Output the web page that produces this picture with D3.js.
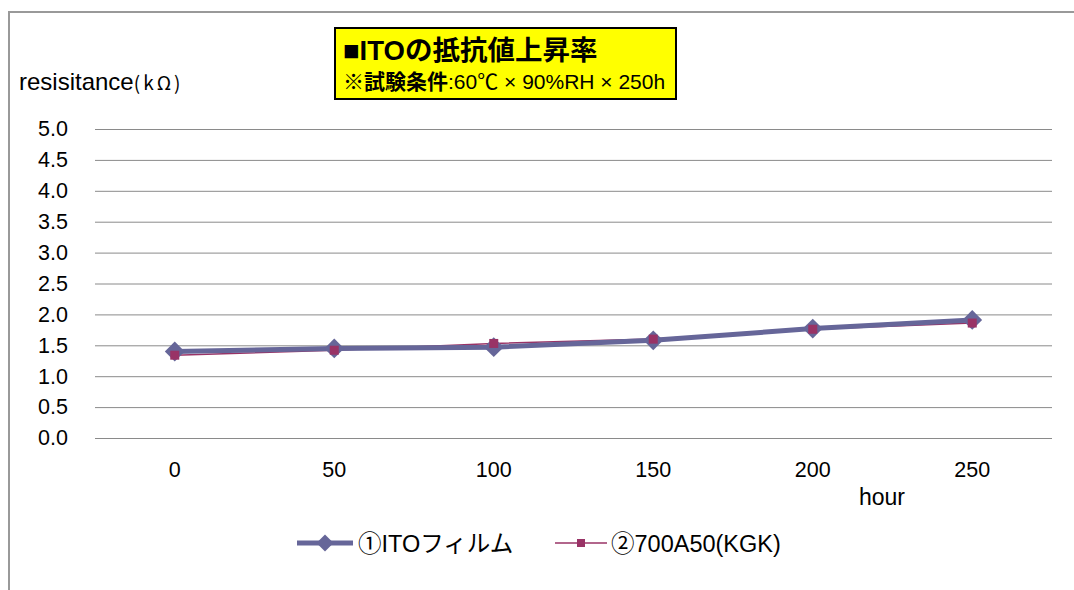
<!DOCTYPE html>
<html>
<head>
<meta charset="utf-8">
<script src="https://cdn.jsdelivr.net/npm/d3@7"></script>
<style>
  html, body { margin: 0; padding: 0; background: #fff; }
  svg { display: block; }
  text { font-family: "Liberation Sans", Arial, "Noto Sans CJK JP", sans-serif; fill: #000; }
</style>
</head>
<body>
<svg id="chart" width="1074" height="590"></svg>
<script>
// Resistance of ITO film vs. exposure time (60°C × 90%RH)
const hours = ["0", "50", "100", "150", "200", "250"];
const itoFilm = [1.40, 1.45, 1.47, 1.58, 1.77, 1.91];
const kgk700A50 = [1.34, 1.42, 1.53, 1.60, 1.76, 1.86];
const yTicks = [0, 0.5, 1.0, 1.5, 2.0, 2.5, 3.0, 3.5, 4.0, 4.5, 5.0];
const seriesNames = ["①ITOフィルム", "②700A50(KGK)"];

const svg = d3.select("#chart");
const W = 1074, H = 590;
const plot = { left: 95, right: 1052, top: 129, bottom: 438 };

// outer chart frame (continues past the page edge)
svg.append("path")
  .attr("d", `M9,${H + 5} L9,12 L${W + 5},12`)
  .attr("fill", "none").attr("stroke", "#999").attr("stroke-width", 2);

const x = d3.scaleBand().domain(hours).range([plot.left, plot.right]);
const y = d3.scaleLinear().domain([0, 5]).range([plot.bottom, plot.top]);

// horizontal gridlines + y labels
const yAxis = d3.axisLeft(y).tickValues(yTicks).tickFormat(d3.format(".1f"))
  .tickSize(-(plot.right - plot.left)).tickPadding(27);
const gy = svg.append("g").attr("transform", `translate(${plot.left},0)`).call(yAxis);
gy.select(".domain").remove();
gy.selectAll(".tick line").attr("stroke", "#8a8a8a").attr("stroke-width", 1);
gy.selectAll(".tick text").attr("font-size", 21.5).attr("fill", "#000")
  .attr("font-family", "Liberation Sans, Arial, sans-serif");

// x labels
const xAxis = d3.axisBottom(x).tickSize(0).tickPadding(24);
const gx = svg.append("g").attr("transform", `translate(0,${plot.bottom})`).call(xAxis);
gx.select(".domain").remove();
gx.selectAll(".tick text").attr("font-size", 21.5).attr("fill", "#000")
  .attr("font-family", "Liberation Sans, Arial, sans-serif");

svg.append("text").attr("x", 882).attr("y", 505).attr("text-anchor", "middle")
  .attr("font-size", 23).text("hour");

// y axis title
const yt = svg.append("text").attr("x", 19).attr("y", 90).attr("font-size", 24);
yt.append("tspan").text("resisitance");
yt.append("tspan").attr("font-size", 19).attr("letter-spacing", 3)
  .attr("font-family", "Noto Sans CJK JP, sans-serif").text("(kΩ)");

const cx = d => x(d) + x.bandwidth() / 2;
const line = d3.line().x((d, i) => cx(hours[i])).y(d => y(d));

// series 2: thin line with square markers
svg.append("path").datum(kgk700A50).attr("d", line)
  .attr("fill", "none").attr("stroke", "#993366").attr("stroke-width", 1.5);

// series 1: thick line with diamond markers
svg.append("path").datum(itoFilm).attr("d", line)
  .attr("fill", "none").attr("stroke", "#666699").attr("stroke-width", 5);
svg.selectAll(".dia").data(itoFilm).join("path").attr("class", "dia")
  .attr("transform", (d, i) => `translate(${cx(hours[i])},${y(d)}) rotate(45)`)
  .attr("d", "M-7,-7H7V7H-7Z").attr("fill", "#666699");

svg.selectAll(".sq").data(kgk700A50).join("rect").attr("class", "sq")
  .attr("x", (d, i) => cx(hours[i]) - 4.5).attr("y", d => y(d) - 4.5)
  .attr("width", 9).attr("height", 9).attr("fill", "#993366");

// legend
const lg = svg.append("g");
lg.append("line").attr("x1", 297).attr("x2", 353).attr("y1", 543).attr("y2", 543)
  .attr("stroke", "#666699").attr("stroke-width", 5);
lg.append("path").attr("transform", "translate(325,543) rotate(45)")
  .attr("d", "M-6,-6H6V6H-6Z").attr("fill", "#666699");
lg.append("text").attr("x", 358).attr("y", 552).attr("font-size", 23.5)
  .attr("font-family", "Noto Sans CJK JP, sans-serif").text(seriesNames[0]);

lg.append("line").attr("x1", 555).attr("x2", 607).attr("y1", 543).attr("y2", 543)
  .attr("stroke", "#993366").attr("stroke-width", 1.5);
lg.append("rect").attr("x", 577).attr("y", 539).attr("width", 8).attr("height", 8).attr("fill", "#993366");
lg.append("text").attr("x", 611).attr("y", 552).attr("font-size", 23.5)
  .attr("font-family", "Noto Sans CJK JP, sans-serif").text(seriesNames[1]);

// title box
const tb = svg.append("g");
tb.append("rect").attr("x", 335).attr("y", 28).attr("width", 341).attr("height", 71)
  .attr("fill", "#ffff00").attr("stroke", "#000").attr("stroke-width", 2);
tb.append("text").attr("x", 343).attr("y", 60).attr("font-size", 27.5).attr("font-weight", "bold")
  .attr("font-family", "Noto Sans CJK JP, sans-serif").text("■ITOの抵抗値上昇率");
const t2 = tb.append("text").attr("x", 343).attr("y", 89).attr("font-size", 21);
t2.append("tspan").attr("font-weight", "bold").attr("font-family", "Noto Sans CJK JP, sans-serif").text("※試験条件");
t2.append("tspan").text(":60℃ × 90%RH × 250h");
</script>
</body>
</html>
